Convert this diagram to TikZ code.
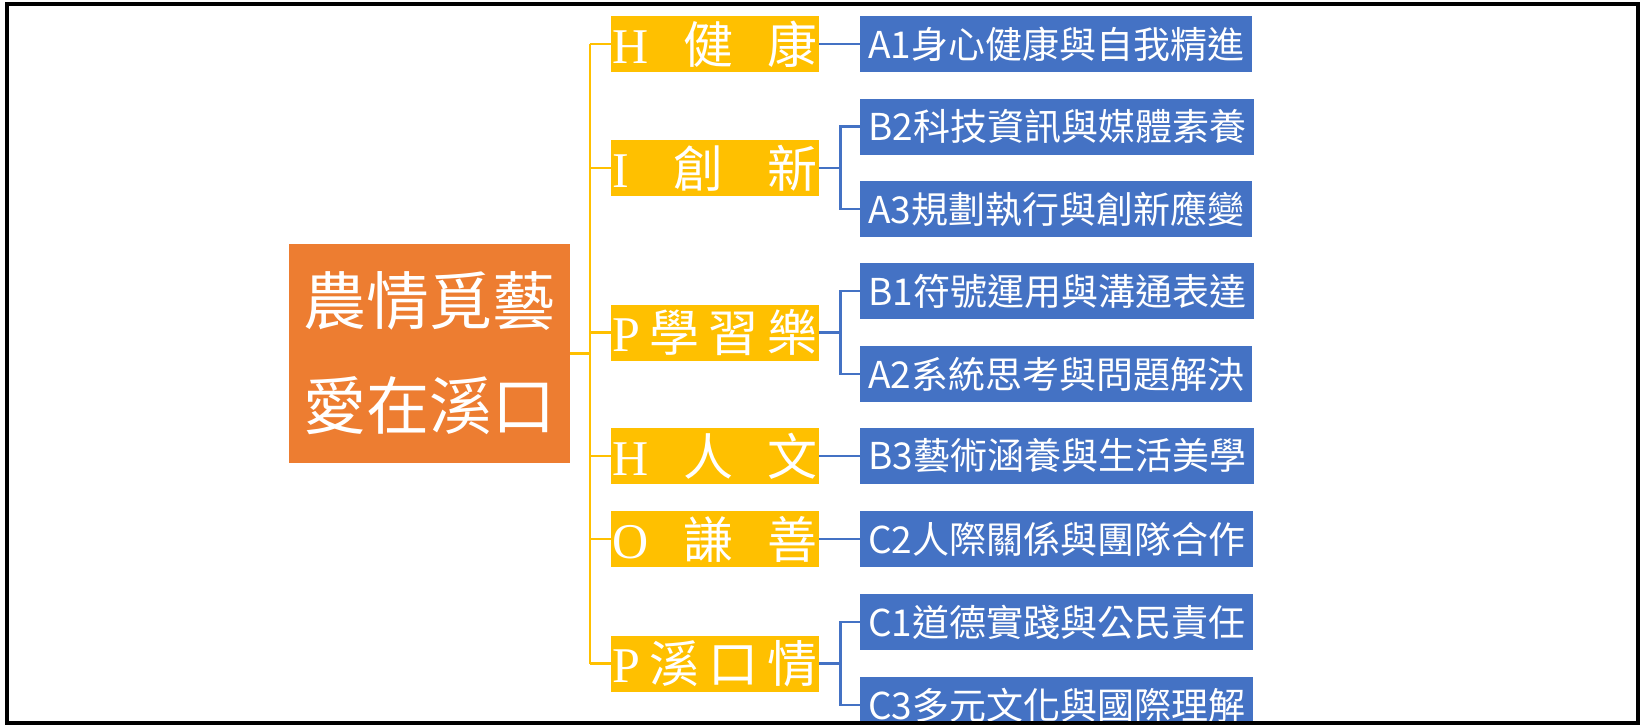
\documentclass[tikz,border=0pt]{standalone}
\usepackage{fontspec}
\setmainfont{Liberation Serif}
\newfontfamily\cjk{Noto Sans CJK TC}
\definecolor{rootorange}{HTML}{ED7D31}
\definecolor{valueyellow}{HTML}{FFC000}
\definecolor{skillblue}{HTML}{4472C4}
\newcommand{\spreadtext}[1]{\hbox to 205pt{#1}}

\begin{document}
\begin{tikzpicture}[x=1pt,y=-1pt,
    rootbox/.style={fill=rootorange, text=white, minimum width=281pt, minimum height=219pt, inner sep=0pt, align=center, font=\cjk\fontsize{63}{105}\selectfont},
    valuebox/.style={fill=valueyellow, text=white, minimum width=208pt, minimum height=56pt, inner sep=0pt, anchor=west, font=\fontsize{50}{56}\selectfont},
    skillbox/.style={fill=skillblue, text=white, minimum height=56pt, inner xsep=8pt, inner ysep=0pt, anchor=west, font=\cjk\fontsize{37}{44}\selectfont},
    yline/.style={draw=valueyellow, line width=2.5pt},
    bline/.style={draw=skillblue, line width=2.5pt}]

    \useasboundingbox (0,0) rectangle (1640,725);

    \node[rootbox] (root) at (429.5,353.5) {農情覓藝\\愛在溪口};

    % the six values
    \node[valuebox] (h1) at (611,44) {\spreadtext{H\hfill{\cjk 健}\hfill{\cjk 康}}};
    \node[valuebox] (i) at (611,168) {\spreadtext{I\hfill{\cjk 創}\hfill{\cjk 新}}};
    \node[valuebox] (p1) at (611,332.5) {\spreadtext{P\hfill{\cjk 學}\hfill{\cjk 習}\hfill{\cjk 樂}}};
    \node[valuebox] (h2) at (611,456) {\spreadtext{H\hfill{\cjk 人}\hfill{\cjk 文}}};
    \node[valuebox] (o) at (611,539) {\spreadtext{O\hfill{\cjk 謙}\hfill{\cjk 善}}};
    \node[valuebox] (p2) at (611,663.5) {\spreadtext{P\hfill{\cjk 溪}\hfill{\cjk 口}\hfill{\cjk 情}}};

    % core skills
    \node[skillbox] (a1) at (860,44) {A1身心健康與自我精進};
    \node[skillbox] (b2) at (860,126.5) {B2科技資訊與媒體素養};
    \node[skillbox] (a3) at (860,209) {A3規劃執行與創新應變};
    \node[skillbox] (b1) at (860,291) {B1符號運用與溝通表達};
    \node[skillbox] (a2) at (860,374) {A2系統思考與問題解決};
    \node[skillbox] (b3) at (860,456) {B3藝術涵養與生活美學};
    \node[skillbox] (c2) at (860,539) {C2人際關係與團隊合作};
    \node[skillbox] (c1) at (860,622) {C1道德實踐與公民責任};
    \node[skillbox] (c3) at (860,705) {C3多元文化與國際理解};

    \coordinate (spine) at (590,353.5);
    \draw[yline] (root.east) -- (spine);
    \draw[yline] (h1.west -| spine) -- (p2.west -| spine);
    \draw[yline] (h1.west) -- (h1.west -| spine);
    \draw[yline] (i.west) -- (i.west -| spine);
    \draw[yline] (p1.west) -- (p1.west -| spine);
    \draw[yline] (h2.west) -- (h2.west -| spine);
    \draw[yline] (o.west) -- (o.west -| spine);
    \draw[yline] (p2.west) -- (p2.west -| spine);

    \draw[bline] (h1.east) -- (a1.west);
    \draw[bline] (h2.east) -- (b3.west);
    \draw[bline] (o.east) -- (c2.west);
    \draw[bline] (i.east) -- ([xshift=21pt]i.east);
    \draw[bline] (b2.west) -| ([xshift=21pt]i.east) |- (a3.west);
    \draw[bline] (p1.east) -- ([xshift=21pt]p1.east);
    \draw[bline] (b1.west) -| ([xshift=21pt]p1.east) |- (a2.west);
    \draw[bline] (p2.east) -- ([xshift=21pt]p2.east);
    \draw[bline] (c1.west) -| ([xshift=21pt]p2.east) |- (c3.west);

    \draw[line width=4pt] (7,4) rectangle (1638,723);
\end{tikzpicture}
\end{document}
